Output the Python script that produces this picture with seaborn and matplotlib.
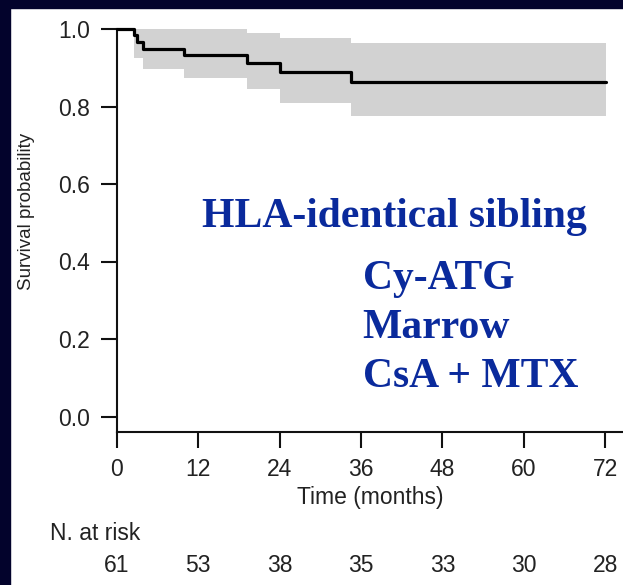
import matplotlib
matplotlib.use("Agg")
import matplotlib.pyplot as plt
import seaborn as sns
import pandas as pd
from matplotlib.patches import Rectangle

# ---- data ----
km_times = [0, 2.6, 2.95, 3.9, 9.96, 19.2, 24.0, 34.5, 72.1]
km_surv = [1.0, 0.984, 0.967, 0.949, 0.934, 0.913, 0.888, 0.864, 0.864]
band_times = [2.6, 3.9, 9.96, 19.2, 24.0, 34.5, 72.1]
band_lower = [0.924, 0.897, 0.873, 0.844, 0.810, 0.775, 0.775]
band_upper = [1.0, 1.0, 1.0, 0.989, 0.978, 0.965, 0.965]
x_ticks = [0, 12, 24, 36, 48, 60, 72]
y_ticks = [0.0, 0.2, 0.4, 0.6, 0.8, 1.0]
at_risk = [61, 53, 38, 35, 33, 30, 28]
annot_title = "HLA-identical sibling"
annot_lines = ["Cy-ATG", "Marrow", "CsA + MTX"]

sns.set_style("ticks")
plt.rcParams['font.family'] = ['Liberation Sans', 'DejaVu Sans']

W, H = 623, 585
fig = plt.figure(figsize=(W / 100, H / 100), dpi=100, facecolor="white")
navy = "#03032c"
fig.patches.append(Rectangle((0, 0), 10 / W, 1, transform=fig.transFigure, color=navy, zorder=0))
fig.patches.append(Rectangle((0, 1 - 8 / H), 1, 8 / H, transform=fig.transFigure, color=navy, zorder=0))

ax = fig.add_axes([116.7 / W, (H - 432) / H, 1 - 116.7 / W, (432 - 29) / H])
ax.set_facecolor("none")

ax.fill_between(band_times, band_lower, band_upper, step="post", color="#d2d2d2", linewidth=0, zorder=1)
df = pd.DataFrame({"t": km_times, "s": km_surv})
sns.lineplot(data=df, x="t", y="s", ax=ax, color="black", linewidth=2.3,
             drawstyle="steps-post", estimator=None, zorder=3)
for l in ax.lines:
    l.set_clip_on(False)

FS = 16.5
TXT = "#222222"
ax.set_xlim(0, (W - 116.7) / 6.785)
ax.set_ylim(-0.04, 1.0)
ax.set_xticks(x_ticks)
ax.set_yticks(y_ticks)
ax.set_yticklabels([f"{v:.1f}" for v in y_ticks])
for s in ["top", "right"]:
    ax.spines[s].set_visible(False)
for s in ["left", "bottom"]:
    ax.spines[s].set_linewidth(1.5)
    ax.spines[s].set_color("#111111")
ax.tick_params(axis="both", direction="out", length=11.5, width=1.5, color="#111111",
               labelsize=FS, labelcolor=TXT, pad=7.5)
ax.set_xlabel("Time (months)", fontsize=FS, color=TXT, labelpad=3)
ax.set_ylabel("")
fig.text(27 / W, 1 - 211.5 / H, "Survival probability", rotation=90, ha="center", va="center",
         fontsize=13.5, color=TXT)

# at-risk table
fig.text(50 / W, 1 - 533 / H, "N. at risk", ha="left", va="center", fontsize=FS, color=TXT)
for t, n in zip(x_ticks, at_risk):
    ax.annotate(str(n), xy=(t, 0), xycoords=("data", "axes fraction"),
                xytext=(0, -(565 - 432) * 0.72), textcoords="offset points",
                ha="center", va="center", fontsize=FS, color=TXT, annotation_clip=False)

blue = "#0a2a9c"
fig.text(201.7 / W, 1 - 226.7 / H, annot_title, ha="left", va="baseline", fontsize=30,
         fontweight="bold", family="Liberation Serif", color=blue)
for i, line in enumerate(annot_lines):
    fig.text(362.7 / W, 1 - (289.3 + 49 * i) / H, line, ha="left", va="baseline", fontsize=30,
             fontweight="bold", family="Liberation Serif", color=blue)

fig.savefig("out.png", dpi=100, facecolor="white")
